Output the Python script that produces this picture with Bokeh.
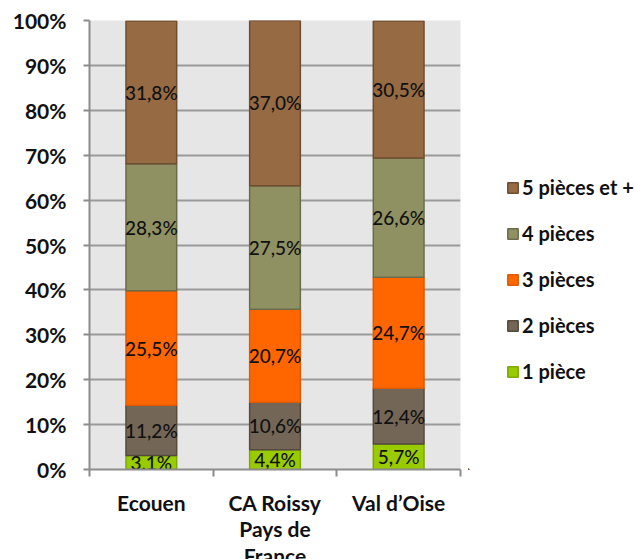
from bokeh.plotting import figure
from bokeh.layouts import row
from bokeh.models import (Range1d, FixedTicker, ColumnDataSource, Legend, LegendItem)
from bokeh.core.properties import value
from bokeh.embed import file_html
from bokeh.resources import INLINE

categories = ["Ecouen", "CA Roissy\nPays de\nFrance", "Val d\u2019Oise"]
series_names = ["1 pi\u00e8ce", "2 pi\u00e8ces", "3 pi\u00e8ces", "4 pi\u00e8ces", "5 pi\u00e8ces et +"]
p1 = [3.1, 4.4, 5.7]
p2 = [11.2, 10.6, 12.4]
p3 = [25.5, 20.7, 24.7]
p4 = [28.3, 27.5, 26.6]
p5 = [31.8, 37.0, 30.5]
series = [p1, p2, p3, p4, p5]
fills = ["#99cc00", "#736657", "#ff6600", "#8f9162", "#966a43"]
lines = ["#7fa800", "#544a3e", "#e05a00", "#6a6c49", "#6f4d31"]
y_ticks = [0, 10, 20, 30, 40, 50, 60, 70, 80, 90, 100]

FONT = "Lato"
H = 584

p = figure(width=468, height=H, output_backend="svg", toolbar_location=None,
           x_range=Range1d(0, 3), y_range=Range1d(0, 100),
           min_border_left=89, min_border_right=8, min_border_top=20, min_border_bottom=115)
p.background_fill_color = "#e6e6e6"
p.border_fill_color = "white"
p.outline_line_color = None

xs = [i + 0.5 for i in range(len(categories))]
data = {"x": xs}
keys = []
for n, s in enumerate(series):
    k = "s%d" % n
    data[k] = s
    keys.append(k)
src = ColumnDataSource(data)

renderers = p.vbar_stack(keys, x="x", width=0.41, source=src,
                         fill_color=fills, line_color=lines, line_width=1.5)

# labels
lx, ly, lt = [], [], []
for i, x in enumerate(xs):
    base = 0.0
    for s in series:
        v = s[i]
        lx.append(x)
        ly.append(base + v / 2)
        lt.append(("%.1f" % v).replace(".", ",") + "%")
        base += v
lsrc = ColumnDataSource(dict(x=lx, y=ly, t=lt))
p.text(x="x", y="y", text="t", source=lsrc, text_align="center", text_baseline="middle",
       text_font=value("Lato Medium, Lato"), text_font_size="19px", text_color="#111111")

# axes
p.xaxis.ticker = FixedTicker(ticks=xs, minor_ticks=[0, 1, 2, 3])
p.xaxis.major_label_overrides = {x: c for x, c in zip(xs, categories)}
p.xaxis.major_tick_out = 0
p.xaxis.major_tick_in = 0
p.xaxis.minor_tick_out = 7
p.xaxis.minor_tick_in = 0
p.xaxis.minor_tick_line_color = "#8c8c8c"
p.xaxis.minor_tick_line_width = 2
p.xaxis.major_label_standoff = 13
p.xaxis.major_label_text_line_height = 1.06

p.yaxis.ticker = FixedTicker(ticks=y_ticks)
p.yaxis.major_label_overrides = {t: "%d%%" % t for t in y_ticks}
p.yaxis.major_tick_out = 6
p.yaxis.major_tick_in = 0
p.yaxis.minor_tick_out = 0
p.yaxis.minor_tick_in = 0
p.yaxis.major_label_standoff = 17

for ax in (p.xaxis, p.yaxis):
    ax.axis_line_color = "#8c8c8c"
    ax.axis_line_width = 2
    ax.major_tick_line_color = "#8c8c8c"
    ax.major_tick_line_width = 2
    ax.major_label_text_font = FONT
    ax.major_label_text_font_style = "bold"
    ax.major_label_text_font_size = "21px"
    ax.major_label_text_color = "#111111"

p.xgrid.grid_line_color = None
p.ygrid.ticker = FixedTicker(ticks=y_ticks)
p.ygrid.grid_line_color = "#9a9a9a"
p.ygrid.grid_line_width = 2

# legend panel (separate figure so the legend is not clipped by the plot frame)
lf = figure(width=168, height=H, output_backend="svg", toolbar_location=None,
            x_range=Range1d(10, 11), y_range=Range1d(200, 300),
            min_border_left=0, min_border_right=0, min_border_top=0, min_border_bottom=0)
lf.axis.visible = False
lf.grid.visible = False
lf.outline_line_color = None
lf.background_fill_color = "white"
leg_r = [lf.vbar(x="x", top=keys[k], width=0.41, source=src,
                 fill_color=fills[k], line_color=lines[k], line_width=1.5)
         for k in range(len(series))]
items = [LegendItem(label=series_names[k], renderers=[leg_r[k]]) for k in range(4, -1, -1)]
legend = Legend(items=items, location=(38, 86), orientation="vertical",
                glyph_width=13, glyph_height=13, label_height=22, spacing=22,
                padding=0, margin=0, border_line_color=None, background_fill_alpha=0,
                label_text_font=FONT, label_text_font_style="bold", label_text_font_size="20px",
                label_text_color="#111111", label_standoff=3)
lf.add_layout(legend, "center")

open("out.html", "w").write(file_html(row(p, lf), INLINE))
